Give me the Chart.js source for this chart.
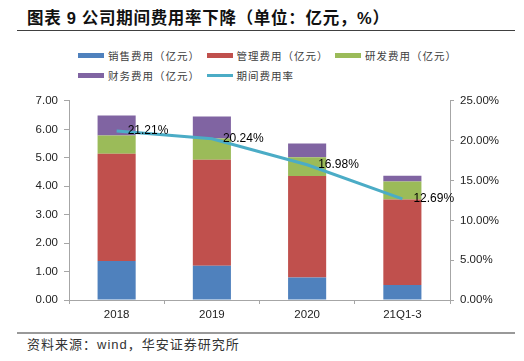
<!DOCTYPE html>
<html>
<head>
<meta charset="utf-8">
<script src="https://cdn.jsdelivr.net/npm/chart.js@4/dist/chart.umd.min.js"></script>
<style>
  body { margin: 0; background: #fff; }
  #wrap { position: relative; width: 524px; height: 361px; overflow: hidden; font-family: "Liberation Sans", "Noto Sans CJK SC", sans-serif; }
  #title { position: absolute; left: 27px; top: 7px; line-height: 22px; font-size: 16.5px; font-weight: bold; letter-spacing: 0.7px; color: #111; font-family: "Liberation Sans", "Noto Sans CJK SC", sans-serif; white-space: nowrap; }
  #rule1 { position: absolute; left: 17px; top: 30px; width: 498px; height: 1px; background: #404040; }
  #legend { position: absolute; left: 78px; top: 45px; display: grid; grid-template-columns: repeat(3, 128.5px); grid-auto-rows: 20px; }
  .item { display: flex; align-items: center; font-size: 10.5px; letter-spacing: 1px; color: #404040; white-space: nowrap; font-family: "Noto Sans CJK SC", sans-serif; }
  .sw { width: 26px; margin-right: 4px; flex: none; }
  #chart { position: absolute; left: 0; top: 88px; }
  #rule2 { position: absolute; left: 17px; top: 332px; width: 498px; height: 2px; background: #999; }
  #source { position: absolute; left: 27px; top: 336px; line-height: 18px; font-size: 13px; letter-spacing: 1px; color: #333; white-space: nowrap; }
</style>
</head>
<body>
<div id="wrap">
  <div id="title">图表 9 公司期间费用率下降（单位：亿元，%）</div>
  <div id="rule1"></div>
  <div id="legend"></div>
  <canvas id="chart" width="524" height="240"></canvas>
  <div id="rule2"></div>
  <div id="source">资料来源：wind，华安证券研究所</div>
</div>
<script>
// 数据
const categories = ['2018', '2019', '2020', '21Q1-3'];
const salesExp = [1.37, 1.20, 0.79, 0.53];   // 销售费用（亿元）
const mgmtExp = [3.77, 3.73, 3.57, 3.00];    // 管理费用（亿元）
const rdExp = [0.64, 0.75, 0.66, 0.64];      // 研发费用（亿元）
const finExp = [0.71, 0.77, 0.48, 0.20];     // 财务费用（亿元）
const expenseRate = [21.21, 20.24, 16.98, 12.69]; // 期间费用率（%）

const leftMax = 7, leftStep = 1;
const rightMax = 25, rightStep = 5;

const axisGray = '#a6a6a6';
const tickFont = { family: '"Liberation Sans", Arial, sans-serif', size: 11.5 };

function barSet(label, data, color) {
    return { type: 'bar', label, data, backgroundColor: color, yAxisID: 'y', stack: 's',
        order: 1, barPercentage: 0.4, categoryPercentage: 1 };
}

const datasets = [
    barSet('销售费用（亿元）', salesExp, '#4F81BD'),
    barSet('管理费用（亿元）', mgmtExp, '#C0504D'),
    barSet('研发费用（亿元）', rdExp, '#9BBB59'),
    barSet('财务费用（亿元）', finExp, '#8064A2'),
    { type: 'line', label: '期间费用率', data: expenseRate, borderColor: '#4BACC6', borderWidth: 3,
      pointRadius: 0, tension: 0, yAxisID: 'y1', order: 0 },
];

// 数据标签
const rateLabels = {
    id: 'rateLabels',
    afterDatasetsDraw(chart) {
        const meta = chart.getDatasetMeta(4);
        const ctx = chart.ctx;
        ctx.save();
        ctx.font = '12px "Liberation Sans", Arial, sans-serif';
        ctx.fillStyle = '#000';
        ctx.textAlign = 'left';
        ctx.textBaseline = 'middle';
        meta.data.forEach((pt, i) => {
            ctx.fillText(expenseRate[i].toFixed(2) + '%', pt.x + 11, pt.y);
        });
        ctx.restore();
    }
};

const chart = new Chart(document.getElementById('chart').getContext('2d'), {
    data: { labels: categories, datasets },
    options: {
        responsive: false,
        animation: false,
        layout: { padding: { top: 12, left: 0, right: 0, bottom: 0 } },
        plugins: { legend: { display: false }, tooltip: { enabled: false } },
        scales: {
            x: {
                offset: true,
                grid: { offset: true, drawOnChartArea: false, color: axisGray, tickLength: 4 },
                border: { color: axisGray },
                ticks: { font: tickFont, color: '#222', padding: 4 },
                afterFit: s => { s.height = 28; },
            },
            y: {
                position: 'left', stacked: true, min: 0, max: leftMax,
                grid: { drawOnChartArea: false, color: axisGray, tickLength: 5 },
                border: { color: axisGray },
                ticks: { stepSize: leftStep, font: tickFont, color: '#222', padding: 6,
                         callback: v => v.toFixed(2) },
                afterFit: s => { s.width = 69; },
            },
            y1: {
                position: 'right', min: 0, max: rightMax,
                grid: { drawOnChartArea: false, color: axisGray, tickLength: 4 },
                border: { color: axisGray },
                ticks: { stepSize: rightStep, font: tickFont, color: '#222', padding: 6,
                         callback: v => v.toFixed(2) + '%' },
                afterFit: s => { s.width = 74; },
            },
        },
    },
    plugins: [rateLabels],
});

// HTML 图例
const legendEl = document.getElementById('legend');
chart.data.datasets.forEach(ds => {
    const item = document.createElement('div');
    item.className = 'item';
    const sw = document.createElement('span');
    sw.className = 'sw';
    if (ds.type === 'line') {
        sw.style.height = '3px';
        sw.style.background = ds.borderColor;
    } else {
        sw.style.height = '5px';
        sw.style.background = ds.backgroundColor;
    }
    item.appendChild(sw);
    item.appendChild(document.createTextNode(ds.label));
    legendEl.appendChild(item);
});
</script>
</body>
</html>
